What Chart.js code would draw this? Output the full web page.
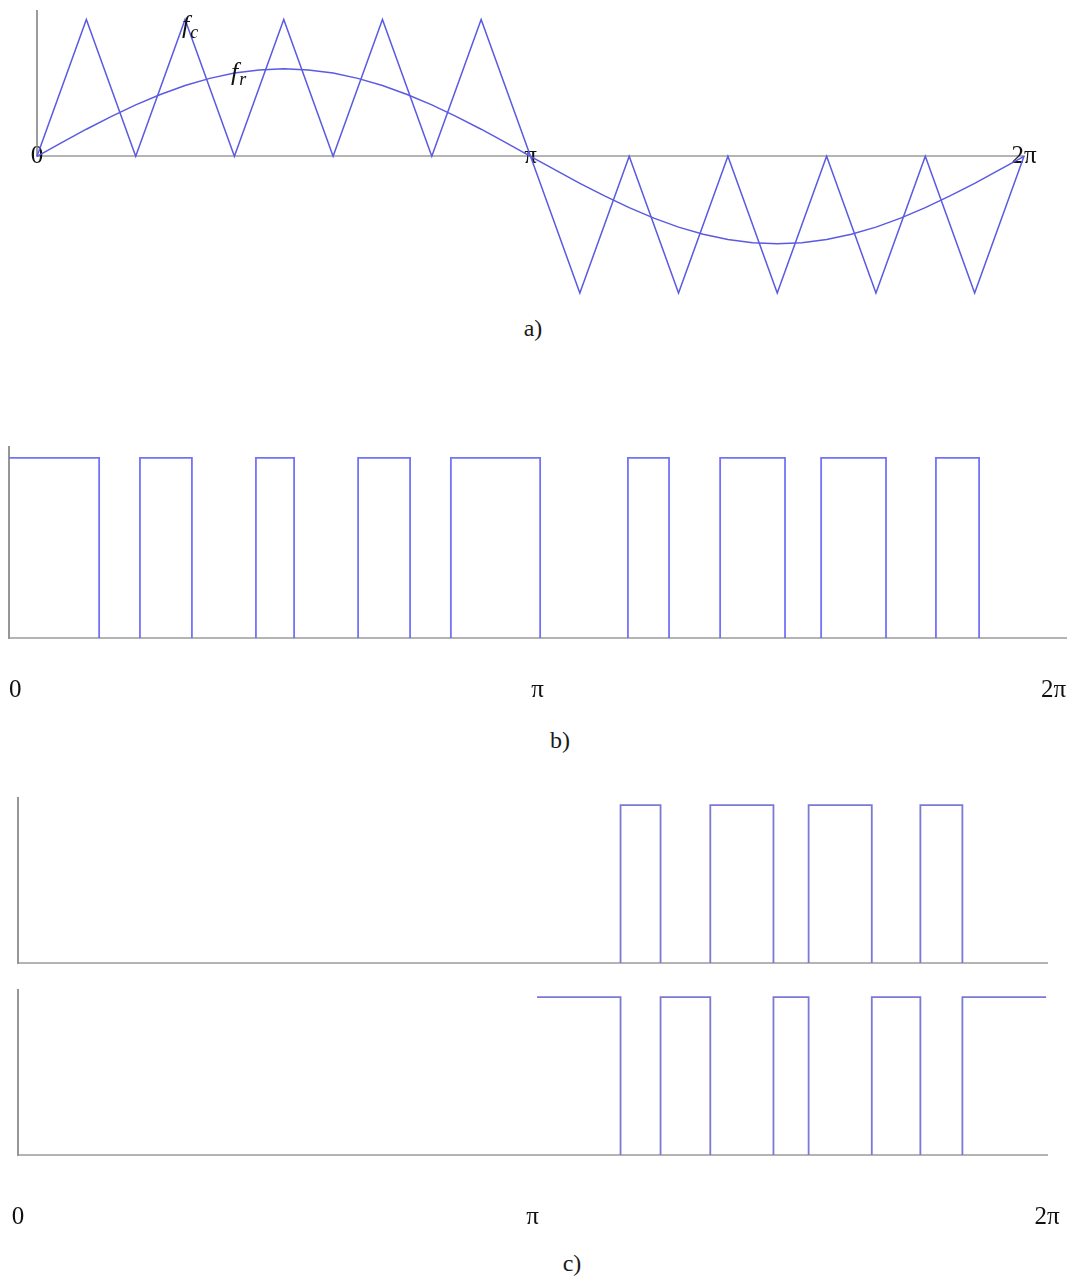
<!DOCTYPE html>
<html>
<head>
<meta charset="utf-8">
<title>SPWM</title>
<script src="https://cdn.jsdelivr.net/npm/chart.js@4.4.1/dist/chart.umd.min.js"></script>
<style>
  body { margin: 0; background: #fff; }
  #wrap { position: relative; width: 1074px; height: 1279px; }
  canvas { position: absolute; left: 0; }
  .cap { position: absolute; font: 24px "Liberation Serif", serif; color: #1a1a1a; transform: translate(-50%, -50%); }
</style>
</head>
<body>
<div id="wrap">
  <canvas id="chartA" width="1074" height="300" style="top:0"></canvas>
  <div class="cap" style="left:533px;top:328px">a)</div>
  <canvas id="chartB" width="1074" height="290" style="top:430px"></canvas>
  <div class="cap" style="left:560px;top:740px">b)</div>
  <canvas id="chartC1" width="1074" height="200" style="top:780px"></canvas>
  <canvas id="chartC2" width="1074" height="265" style="top:975px"></canvas>
  <div class="cap" style="left:572px;top:1263px">c)</div>
</div>
<script>
// angles in degrees, 0..360 = 0..2pi
const tickAngles = [0, 180, 360];
const tickNames = ['0', 'π', '2π'];

// carrier triangle (fc) vertices
const carrierAngles = [0, 18, 36, 54, 72, 90, 108, 126, 144, 162, 180, 198, 216, 234, 252, 270, 288, 306, 324, 342, 360];
const carrierValues = [0, 1, 0, 1, 0, 1, 0, 1, 0, 1, 0, -1, 0, -1, 0, -1, 0, -1, 0, -1, 0];

// reference wave (fr)
const refAngles = [0, 9, 18, 27, 36, 45, 54, 63, 72, 81, 90, 99, 108, 117, 126, 135, 144, 153, 162, 171, 180,
  189, 198, 207, 216, 225, 234, 243, 252, 261, 270, 279, 288, 297, 306, 315, 324, 333, 342, 351, 360];
const refValues = [0, 0.10, 0.198, 0.29, 0.376, 0.452, 0.518, 0.57, 0.609, 0.632, 0.64, 0.632, 0.609, 0.57, 0.518, 0.452, 0.376, 0.29, 0.198, 0.10, 0,
  -0.10, -0.198, -0.29, -0.376, -0.452, -0.518, -0.57, -0.609, -0.632, -0.64, -0.632, -0.609, -0.57, -0.518, -0.452, -0.376, -0.29, -0.198, -0.10, 0];

// switching pulses [on, off]
const pulsesB = [[0, 30.7], [44.6, 62.3], [84.1, 97.1], [118.9, 136.6], [150.5, 180.9],
  [210.8, 224.8], [242.2, 264.3], [276.6, 298.7], [315.7, 330.4]];
const pulsesUpper = [[210.8, 224.8], [242.2, 264.3], [276.6, 298.7], [315.7, 330.4]];
const pulsesLower = [[181.6, 210.8], [224.8, 242.2], [264.3, 276.6], [298.7, 315.7], [330.4, 359.7]];
const lowerSpan = [181.6, 359.7];

const curveNames = [
  { main: 'f', sub: 'c', x: 52.9, y: 0.9 },
  { main: 'f', sub: 'r', x: 70.8, y: 0.56 }
];

function toPoints(xs, ys) {
  return xs.map(function (x, i) { return { x: x, y: ys[i] }; });
}

// edges at the ends of the span are left open
function pulsePoints(pulses, lo, hi) {
  const pts = [];
  pulses.forEach(function (p) {
    if (p[0] > lo) pts.push({ x: p[0], y: 0 });
    pts.push({ x: p[0], y: 1 }, { x: p[1], y: 1 });
    if (p[1] < hi) pts.push({ x: p[1], y: 0 });
    pts.push({ x: p[1], y: null });
  });
  return pts;
}

function line(data, color, width) {
  return { data: data, borderColor: color, borderWidth: width, pointRadius: 0, fill: false, clip: false, spanGaps: false };
}

const labelFont = { family: 'Liberation Serif', size: 25 };
const halfLine = 15; // half of the label line height (25 * 1.2 / 2)

// x axis sits on y = 0; the (hidden) tick length pushes the labels down
function xAxis(labelDrop, align) {
  return {
    type: 'linear', min: 0, max: 360, position: { y: 0 },
    grid: { display: false, drawTicks: true, tickLength: Math.max(labelDrop - halfLine, 0) },
    border: { display: true, color: 'rgb(180,180,180)', width: 2 },
    afterBuildTicks: function (s) { s.ticks = tickAngles.map(function (v) { return { value: v }; }); },
    afterFit: function (s) { s.height = 0; },
    ticks: {
      display: align !== null, autoSkip: false, maxRotation: 0, padding: 0, align: align || 'center',
      color: '#111', font: labelFont,
      callback: function (v, i) { return tickNames[i]; }
    }
  };
}

function yAxis(min, max, show) {
  return {
    type: 'linear', min: min, max: max, display: show,
    grid: { display: false, drawTicks: false },
    border: { display: true, color: 'rgb(150,150,150)', width: 2 },
    ticks: { display: false },
    afterFit: function (s) { s.width = 0; }
  };
}

const nameLabels = {
  id: 'nameLabels',
  afterDatasetsDraw(chart) {
    const ctx = chart.ctx, sx = chart.scales.x, sy = chart.scales.y;
    ctx.save();
    ctx.fillStyle = '#111';
    ctx.textBaseline = 'alphabetic';
    curveNames.forEach(function (n) {
      const px = sx.getPixelForValue(n.x), py = sy.getPixelForValue(n.y);
      ctx.font = 'italic 26px "Liberation Serif"';
      ctx.fillText(n.main, px, py);
      const w = ctx.measureText(n.main).width;
      ctx.font = 'italic 18px "Liberation Serif"';
      ctx.fillText(n.sub, px + w + 1, py + 5);
    });
    ctx.restore();
  }
};

function makeChart(id, datasets, scales, pad, plugins) {
  return new Chart(document.getElementById(id), {
    type: 'line',
    data: { datasets: datasets },
    options: {
      responsive: false,
      animation: false,
      events: [],
      layout: { padding: pad },
      plugins: { legend: { display: false }, tooltip: { enabled: false } },
      scales: scales
    },
    plugins: plugins || []
  });
}

// a) carrier and reference, labels centred on the axis line
const axisA = xAxis(0, 'center');
axisA.grid.drawTicks = false;
axisA.ticks.padding = -halfLine;
makeChart('chartA', [
  line(toPoints(carrierAngles, carrierValues), 'rgb(90,90,226)', 1.5),
  line(toPoints(refAngles, refValues), 'rgb(90,90,226)', 1.5),
  line([{ x: 0, y: 0 }, { x: 0, y: 1.07 }], 'rgb(130,130,130)', 1.6)
], {
  x: axisA,
  y: { type: 'linear', min: -1, max: 1.07, display: false }
}, { left: 37, right: 50, top: 10, bottom: 7 }, [nameLabels]);

// b) pulse train
makeChart('chartB', [
  line(pulsePoints(pulsesB, 0, 360), 'rgba(100,100,250,0.9)', 1.8)
], {
  x: xAxis(52, 'inner'),
  y: yAxis(0, 1.06, true)
}, { left: 9, right: 8, top: 17, bottom: 82 });

// c) upper and lower switch signals
makeChart('chartC1', [
  line(pulsePoints(pulsesUpper, 0, 360), 'rgb(122,122,212)', 1.8)
], {
  x: xAxis(0, null),
  y: yAxis(0, 1.045, true)
}, { left: 18, right: 27, top: 18, bottom: 17 });

makeChart('chartC2', [
  line(pulsePoints(pulsesLower, lowerSpan[0], lowerSpan[1]), 'rgb(122,122,212)', 1.8)
], {
  x: xAxis(62, 'center'),
  y: yAxis(0, 1.045, true)
}, { left: 18, right: 27, top: 15, bottom: 85 });
</script>
</body>
</html>
